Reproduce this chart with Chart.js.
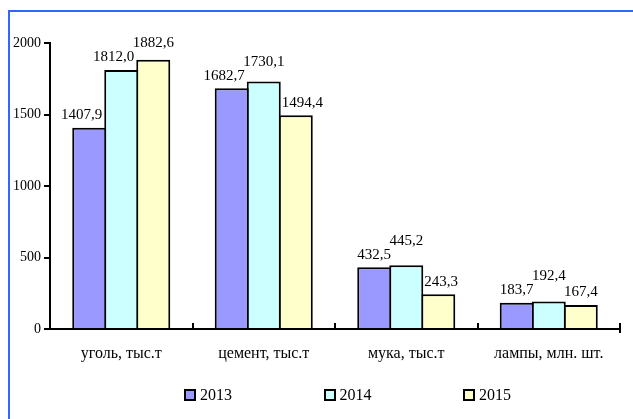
<!DOCTYPE html>
<html>
<head>
<meta charset="utf-8">
<script src="https://cdn.jsdelivr.net/npm/chart.js@4.4.1/dist/chart.umd.min.js"></script>
<style>
    html, body { margin: 0; padding: 0; background: #fff; }
    #wrap { position: relative; width: 633px; height: 419px; overflow: hidden; }
    #frame { position: absolute; left: 8px; top: 10px; width: 700px; height: 500px;
             border-left: 2px solid #3366ff; border-top: 2px solid #3366ff; pointer-events: none; }
    #legend { position: absolute; left: 184px; top: 386px; display: flex;
              font-family: "Liberation Serif", "Times New Roman", serif; font-size: 16px; color: #000; }
    .item { width: 139.5px; display: flex; align-items: center; }
    .box { width: 8px; height: 8px; border: 2px solid #000; margin-right: 4px; }
</style>
</head>
<body>
<div id="wrap">
    <canvas id="barChart" width="633" height="419"></canvas>
    <div id="frame"></div>
    <div id="legend"></div>
</div>
<script>
// Данные диаграммы
const categories = ['уголь, тыс.т', 'цемент, тыс.т', 'мука, тыс.т', 'лампы, млн. шт.'];
const years = ['2013', '2014', '2015'];
const values2013 = [1407.9, 1682.7, 432.5, 183.7];
const values2014 = [1812.0, 1730.1, 445.2, 192.4];
const values2015 = [1882.6, 1494.4, 243.3, 167.4];
const yTicks = [0, 500, 1000, 1500, 2000];

const colors = ['#9999ff', '#ccffff', '#ffffcc'];
const fontFamily = '"Liberation Serif", "Times New Roman", serif';

function fmt(v) {
    return v.toFixed(1).replace('.', ',');
}

// Подписи значений над столбцами (сдвиг, чтобы не налезали на соседние столбцы и друг на друга)
const valueLabels = {
    id: 'valueLabels',
    afterDatasetsDraw(chart) {
        const ctx = chart.ctx;
        ctx.save();
        ctx.font = '15px ' + fontFamily;
        ctx.fillStyle = '#000';
        ctx.textAlign = 'center';
        ctx.textBaseline = 'bottom';
        const h = 13;
        const n = chart.data.datasets.length;
        categories.forEach((c, i) => {
            const bars = chart.data.datasets.map((ds, d) => chart.getDatasetMeta(d).data[i]);
            const placed = [];
            chart.data.datasets.forEach((ds, d) => {
                const bar = bars[d];
                const text = fmt(ds.data[i]);
                const w = ctx.measureText(text).width;
                let bottom = bar.y - 5;
                let cx = bar.x;
                const next = d < n - 1 ? bars[d + 1] : null;
                const prev = d > 0 ? bars[d - 1] : null;
                if (next && next.y < bottom && cx + w / 2 > next.x - next.width / 2) {
                    cx = next.x - next.width / 2 - 2 - w / 2;
                } else if (prev && prev.y < bottom && cx - w / 2 < prev.x + prev.width / 2) {
                    cx = prev.x + prev.width / 2 + 1 + w / 2;
                }
                placed.forEach(p => {
                    const overlapX = Math.abs(p.x - cx) < (p.w + w) / 2;
                    const overlapY = bottom > p.bottom - h && bottom - h < p.bottom;
                    if (overlapX && overlapY) bottom = p.bottom - h - 1;
                });
                placed.push({ x: cx, w: w, bottom: bottom });
                ctx.fillText(text, cx, bottom);
            });
        });
        ctx.restore();
    }
};

// Короткие засечки между категориями
const categoryTicks = {
    id: 'categoryTicks',
    afterDraw(chart) {
        const x = chart.scales.x;
        const ctx = chart.ctx;
        ctx.save();
        ctx.strokeStyle = '#000';
        ctx.lineWidth = 2;
        for (let i = 1; i <= categories.length; i++) {
            const px = i < categories.length ? Math.round(x.getPixelForValue(i - 0.5)) : x.right;
            ctx.beginPath();
            ctx.moveTo(px, x.top - 6);
            ctx.lineTo(px, x.top + (i === categories.length ? 4 : 0));
            ctx.stroke();
        }
        ctx.restore();
    }
};

document.addEventListener("DOMContentLoaded", function() {
    const barCtx = document.getElementById('barChart').getContext('2d');
    const seriesValues = [values2013, values2014, values2015];

    const barChart = new Chart(barCtx, {
        type: 'bar',
        data: {
            labels: categories,
            datasets: years.map((y, k) => ({
                label: y,
                data: seriesValues[k],
                backgroundColor: colors[k],
                borderColor: '#000',
                borderWidth: 2,
                categoryPercentage: 0.674,
                barPercentage: 1.0625
            }))
        },
        options: {
            responsive: false,
            animation: false,
            layout: { padding: { left: 0, top: 43, right: 13, bottom: 50 } },
            plugins: {
                legend: { display: false },
                tooltip: { enabled: false }
            },
            scales: {
                x: {
                    grid: { display: false },
                    border: { color: '#000', width: 2 },
                    ticks: { color: '#000', padding: 7, font: { family: fontFamily, size: 16 } },
                    afterFit: s => { s.height = 40; }
                },
                y: {
                    min: 0,
                    max: 2000,
                    afterBuildTicks: s => { s.ticks = yTicks.map(v => ({ value: v })); },
                    grid: { drawOnChartArea: false, drawTicks: true, tickLength: 6, color: '#000', lineWidth: 2 },
                    border: { color: '#000', width: 2 },
                    ticks: {
                        color: '#000', padding: 3, font: { family: fontFamily, size: 14 },
                        callback: v => String(v)
                    },
                    afterFit: s => { s.width = 50; }
                }
            }
        },
        plugins: [valueLabels, categoryTicks]
    });

    // Легенда
    const legend = document.getElementById('legend');
    years.forEach((y, k) => {
        const item = document.createElement('div');
        item.className = 'item';
        const box = document.createElement('span');
        box.className = 'box';
        box.style.background = colors[k];
        item.appendChild(box);
        item.appendChild(document.createTextNode(y));
        legend.appendChild(item);
    });
});
</script>
</body>
</html>
